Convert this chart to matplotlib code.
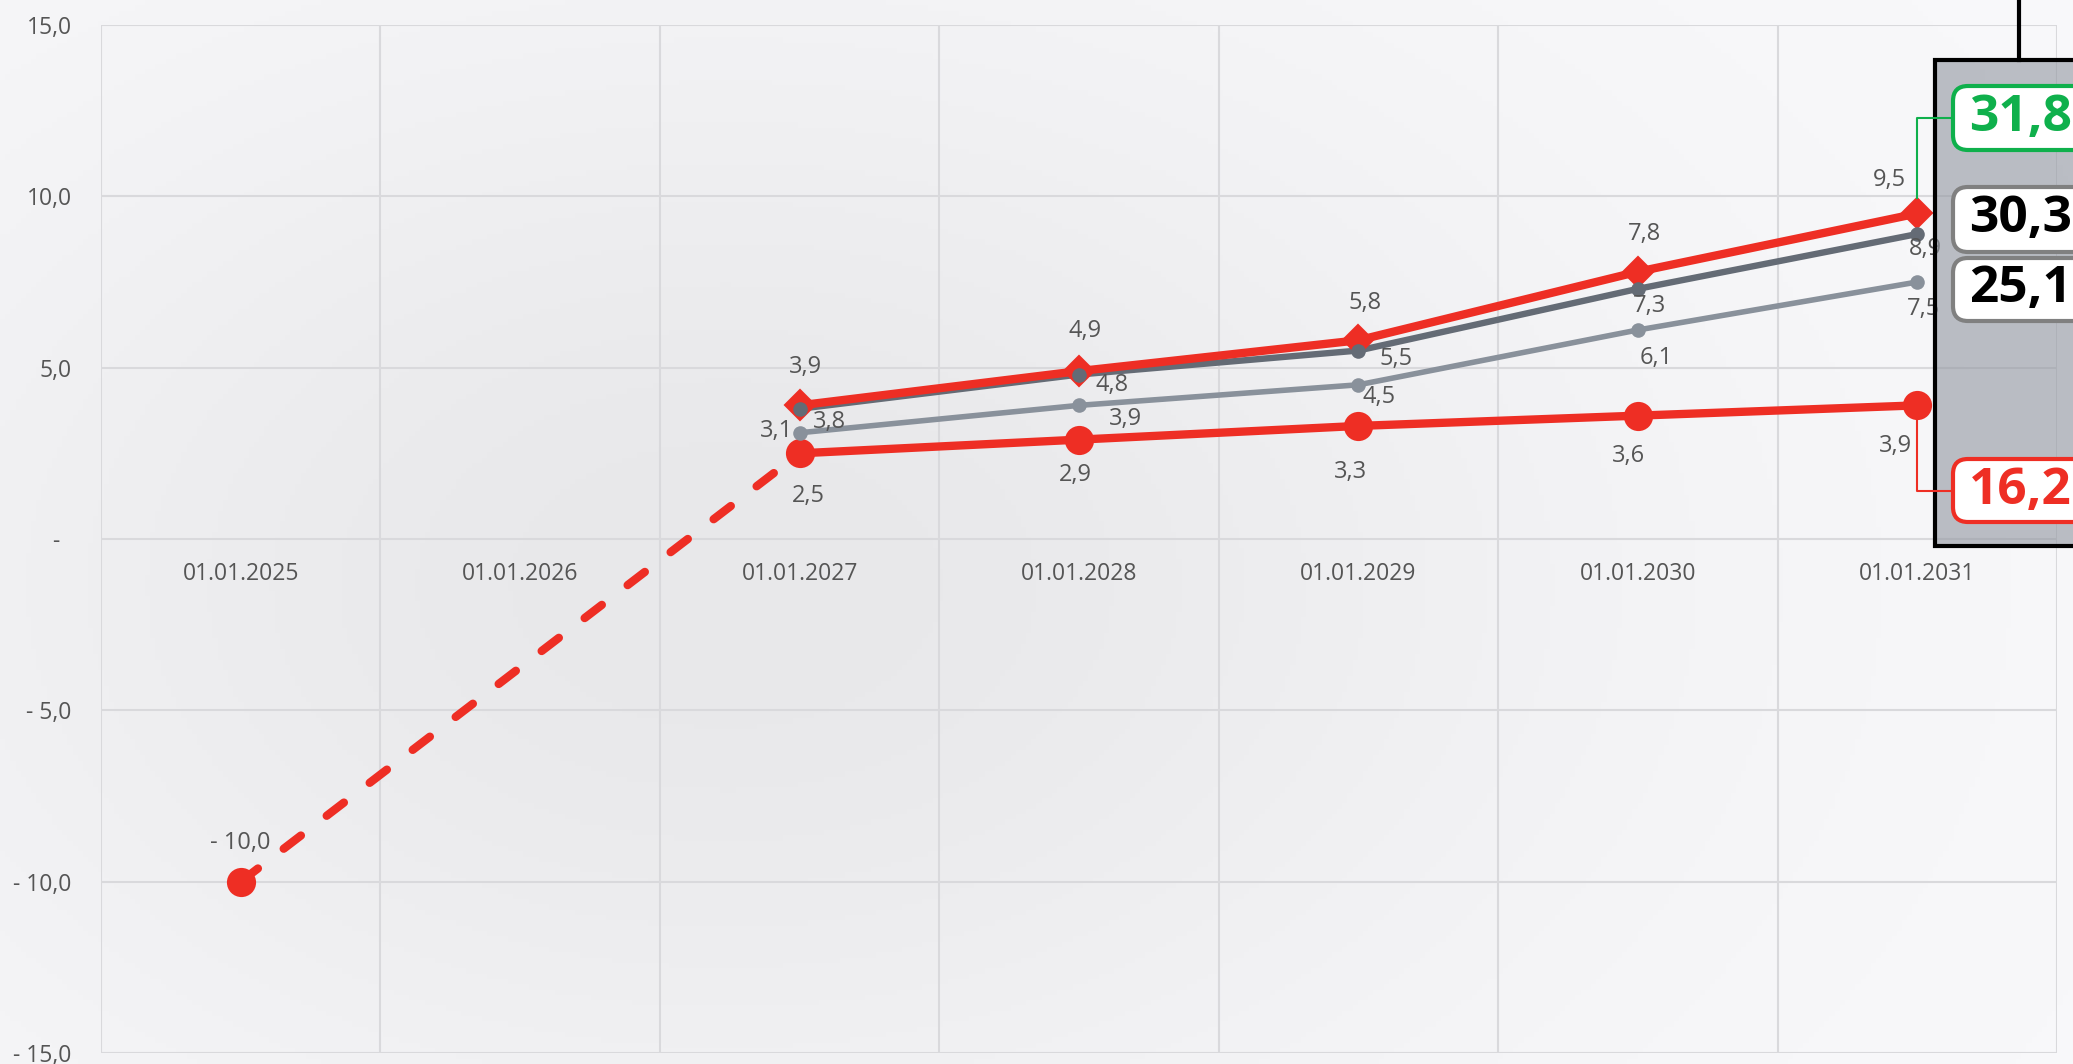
import numpy as np
import matplotlib.pyplot as plt
from matplotlib.patches import Rectangle, FancyBboxPatch
from matplotlib.lines import Line2D

plt.rcParams['font.family'] = ['Open Sans', 'DejaVu Sans']

# chart data (nan = no value on that date)
categories = ['01.01.2025', '01.01.2026', '01.01.2027', '01.01.2028',
              '01.01.2029', '01.01.2030', '01.01.2031']
red_base = [-10.0, np.nan, 2.5, 2.9, 3.3, 3.6, 3.9]
red_top = [np.nan, np.nan, 3.9, 4.9, 5.8, 7.8, 9.5]
gray_dark = [np.nan, np.nan, 3.8, 4.8, 5.5, 7.3, 8.9]
gray_light = [np.nan, np.nan, 3.1, 3.9, 4.5, 6.1, 7.5]
totals = [31.8, 30.3, 25.1, 16.2]
y_ticks = [-15, -10, -5, 0, 5, 10, 15]

RED = '#ee2e24'
DARK = '#646b75'
LIGHT = '#89919b'
GREEN = '#0fb04c'
TXT = '#555555'
W, H = 2073, 1064


def fmt(v):
    if v == 0:
        return '-  '
    s = f'{abs(v):.1f}'.replace('.', ',')
    return '- ' + s if v < 0 else s


fig = plt.figure(figsize=(W / 100, H / 100), dpi=100)

# soft grey background
xs = np.linspace(0, 1, 400)
ys = np.linspace(0, 1, 200)
gx, gy = np.meshgrid(xs, ys)
lum = 249 - 17 * np.exp(-((gx - 0.35) ** 2 / 0.18 + (gy - 0.55) ** 2 / 0.3))
img = np.dstack([lum, lum, lum + 2]) / 255
bg = fig.add_axes([0, 0, 1, 1], zorder=-10)
bg.imshow(np.clip(img, 0, 1), aspect='auto', extent=(0, 1, 0, 1))
bg.axis('off')

ax = fig.add_axes([101 / W, 1 - 1053 / H, (2057 - 101) / W, (1053 - 25) / H])
ax.set_facecolor('none')

x = np.arange(len(categories))
rb = np.array(red_base)
rt = np.array(red_top)
gd = np.array(gray_dark)
gl = np.array(gray_light)

# red base: dashed link from the first value, solid afterwards
idx = np.where(~np.isnan(rb))[0]
ax.plot(x[idx[:2]], rb[idx[:2]], color=RED, lw=6, ls=(0, (2.6, 3.9)),
        dash_capstyle='round', zorder=3)
ax.plot(x[idx[1:]], rb[idx[1:]], color=RED, lw=6, zorder=3)
ax.plot(x, gl, color=LIGHT, lw=4, zorder=2)
ax.plot(x, gd, color=DARK, lw=4.6, zorder=3)
ax.plot(x, rt, color=RED, lw=6, zorder=4)

ax.plot(x, rb, 'o', color=RED, ms=21, mew=0, zorder=6)
ax.plot(x, rt, 'D', color=RED, ms=15.5, mew=1.5, zorder=5)
ax.plot(x, gd, 'o', color=DARK, ms=10.5, mew=0, zorder=6)
ax.plot(x, gl, 'o', color=LIGHT, ms=10.5, mew=0, zorder=6)

# value labels (offsets in pixels, y down)
offs = {
    'rb': [(0, -39), None, (9, 43), (-4, 35), (-8, 46), (-9, 40), (-22, 41)],
    'rt': [None, None, (6, -38), (6, -40), (7, -37), (7, -38), (-28, -33)],
    'gd': [None, None, (30, 13), (33, 10), (38, 8), (12, 17), (8, 15)],
    'gl': [None, None, (-23, -2), (46, 14), (21, 12), (18, 28), (6, 27)],
}
for key, vals in [('rb', rb), ('rt', rt), ('gd', gd), ('gl', gl)]:
    for i, v in enumerate(vals):
        if np.isnan(v):
            continue
        dx, dy = offs[key][i]
        ax.annotate(fmt(v), (x[i], v), xytext=(dx * 0.72, -dy * 0.72),
                    textcoords='offset points', ha='center', va='center',
                    fontsize=17, color=TXT, zorder=7)

ax.set_xlim(-0.5, 6.5)
ax.set_ylim(-15, 15)
ax.set_xticks(x)
ax.set_xticklabels(categories)
ax.set_xticks(np.arange(-0.5, 7, 1), minor=True)
ax.set_yticks(y_ticks)
ax.set_yticklabels([fmt(v) for v in y_ticks])
ax.xaxis.grid(True, which='minor', color='#d9d9dc', lw=1.5)
ax.yaxis.grid(True, which='major', color='#d9d9dc', lw=1.5)
ax.set_axisbelow(True)
for s in ax.spines.values():
    s.set_visible(False)
ax.spines['bottom'].set_position(('data', 0))
ax.tick_params(which='both', length=0, labelsize=16.5, labelcolor=TXT)
ax.tick_params(axis='x', pad=16.5)
ax.tick_params(axis='y', pad=21)

# right-hand totals panel
def inch(px, py):
    return px / 100, (H - py) / 100

p0 = inch(1935, 546)
fig.add_artist(Rectangle(p0, 3.0, (546 - 60) / 100,
                         transform=fig.dpi_scale_trans,
                         facecolor=(0.58, 0.6, 0.64, 0.62),
                         edgecolor='black', lw=3, zorder=5))
fig.add_artist(Line2D([2019 / 100, 2019 / 100], [H / 100, (H - 60) / 100],
                      transform=fig.dpi_scale_trans, color='black', lw=3, zorder=5))

boxes = [(86, 150, GREEN, GREEN), (187, 252, '#808080', 'black'),
         (258, 321, '#808080', 'black'), (459, 522, RED, RED)]
for val, (top, bot, ec, tc) in zip(totals, boxes):
    bx, by = inch(1953, bot)
    fig.add_artist(FancyBboxPatch((bx, by), 2.5, (bot - top) / 100,
                                  boxstyle='round,pad=0,rounding_size=0.15',
                                  transform=fig.dpi_scale_trans,
                                  facecolor='white', edgecolor=ec, lw=3, zorder=6))
    tx, ty = inch(1969, (top + bot) / 2)
    fig.text(tx, ty, fmt(val), transform=fig.dpi_scale_trans, ha='left',
             va='center', fontsize=37, fontweight='bold', color=tc, zorder=7)

# connectors from the last points to their totals
fig.canvas.draw()
for val, color, (top, bot), edge in [(rt[-1], GREEN, (86, 150), -15),
                                      (rb[-1], RED, (459, 522), 14)]:
    px, py = ax.transData.transform((x[-1], val))
    py = H - py
    yc = (top + bot) / 2
    xs_ = [px, px, 1953]
    ys_ = [py + edge, yc, yc]
    fig.add_artist(Line2D([v / 100 for v in xs_], [(H - v) / 100 for v in ys_],
                          transform=fig.dpi_scale_trans, color=color, lw=1.5,
                          zorder=5.5))

fig.savefig('out.png', dpi=100)
